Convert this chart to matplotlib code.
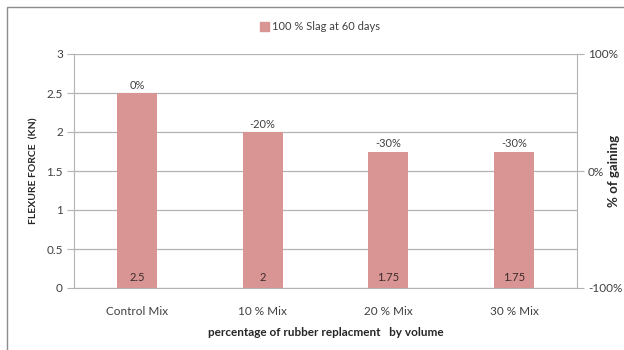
import matplotlib
matplotlib.use("Agg")
import matplotlib.pyplot as plt
from matplotlib.patches import Rectangle
from matplotlib.ticker import FuncFormatter

plt.rcParams['font.family'] = ['Lato', 'DejaVu Sans']

categories = ["Control Mix", "10 % Mix", "20 % Mix", "30 % Mix"]
flexure_force = [2.5, 2.0, 1.75, 1.75]
gain_pct = [0, -20, -30, -30]
series_name = "100 % Slag at 60 days"

bar_color = "#D99594"
grid_color = "#B3B3B3"
text_color = "#404040"

fig = plt.figure(figsize=(6.24, 3.5), dpi=100)
fig.patch.set_facecolor("white")

# outer chart frame
fig.patches.append(Rectangle((7 / 624, -0.05), 1.0, 1 - 7 / 350 + 0.05,
                             transform=fig.transFigure, fill=False,
                             edgecolor="#8C8C8C", linewidth=1.0))

ax = fig.add_axes([74 / 624, 1 - 288 / 350, (577 - 74) / 624, (288 - 54) / 350])
x = range(len(categories))
bars = ax.bar(x, flexure_force, width=0.32, color=bar_color, zorder=3)

ax.set_ylim(0, 3)
ax.set_xlim(-0.5, len(categories) - 0.5)
ax.set_yticks([0, 0.5, 1, 1.5, 2, 2.5, 3])
ax.set_yticklabels(["0", "0.5", "1", "1.5", "2", "2.5", "3"])
ax.set_xticks(list(x))
ax.set_xticklabels(categories)
ax.yaxis.grid(True, color=grid_color, linewidth=0.9, zorder=0)
ax.set_axisbelow(True)

for side in ("top", "right"):
    ax.spines[side].set_visible(False)
ax.spines["left"].set_color(grid_color)
ax.spines["bottom"].set_color(grid_color)
ax.tick_params(axis="y", length=5, color=grid_color, labelsize=8.5, labelcolor=text_color, pad=3)
ax.tick_params(axis="x", length=0, labelsize=8.5, labelcolor=text_color, pad=13)

ax.set_ylabel("FLEXURE FORCE  (KN)", fontsize=7.5, fontweight="bold", color="#262626", labelpad=6)
ax.set_xlabel("percentage of rubber replacment   by volume", fontsize=8.5, fontweight="bold",
              color="#262626", labelpad=7)

# value labels inside bars, gain labels above bars
for xi, v, g in zip(x, flexure_force, gain_pct):
    ax.text(xi, 0.13, f"{v:g}", ha="center", va="center", fontsize=8, color="#3A2A2A", zorder=4)
    ax.text(xi, v + 0.03, f"{g}%", ha="center", va="bottom", fontsize=8, color=text_color, zorder=4)

ax2 = ax.twinx()
ax2.set_ylim(-1, 1)
ax2.set_yticks([-1, 0, 1])
ax2.yaxis.set_major_formatter(FuncFormatter(lambda v, p: f"{v * 100:.0f}%"))
for side in ("top", "left", "bottom"):
    ax2.spines[side].set_visible(False)
ax2.spines["right"].set_color(grid_color)
ax2.tick_params(axis="y", length=5, color=grid_color, labelsize=8.5, labelcolor=text_color, pad=3)
ax2.set_ylabel("% of gaining", fontsize=9.5, fontweight="bold", color="#262626",
               rotation=90, va="center", ha="center")
ax2.yaxis.set_label_coords((614 - 74) / 503, 0.5)

# legend
handle = Rectangle((0, 0), 1, 1, color=bar_color)
fig.legend([handle], [series_name], loc="center", bbox_to_anchor=(320 / 624, 1 - 27 / 350),
           frameon=False, fontsize=8, handlelength=0.8, handleheight=0.8,
           handletextpad=0.3, labelcolor=text_color)

fig.savefig("out.png", dpi=100, facecolor="white")
